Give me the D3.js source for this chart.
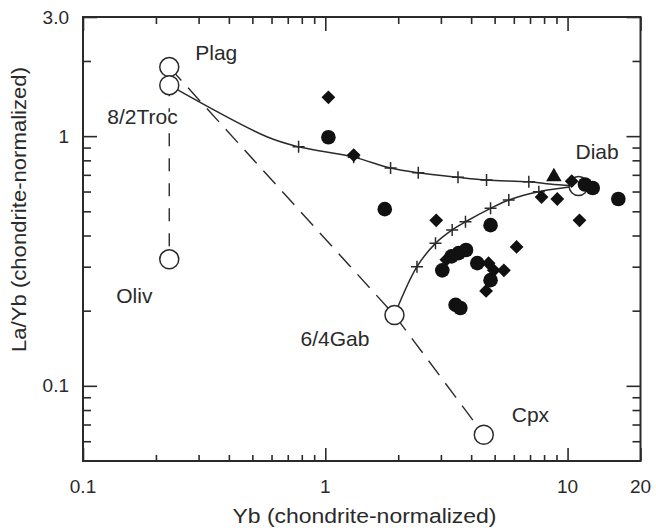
<!DOCTYPE html>
<html>
<head>
<meta charset="utf-8">
<script src="https://cdn.jsdelivr.net/npm/d3@7"></script>
<style>
  body { margin: 0; background: #fff; }
  svg { display: block; font-family: "Liberation Sans", Arial, sans-serif; }
</style>
</head>
<body>
<div id="chart"></div>
<script>
// Chart data
const xMajor = [0.1, 1, 10, 20];
const xMajorLabels = ["0.1", "1", "10", "20"];
const xMinor = [0.2, 0.3, 0.4, 0.5, 0.6, 0.7, 0.8, 0.9, 2, 3, 4, 5, 6, 7, 8, 9];
const yMajor = [3.0, 1, 0.1];
const yMajorLabels = ["3.0", "1", "0.1"];
const yMinor = [0.06, 0.07, 0.08, 0.09, 0.2, 0.3, 0.4, 0.5, 0.6, 0.7, 0.8, 0.9, 2];

// end-member compositions (open circles)
const endNames = ["Plag", "8/2Troc", "Oliv", "6/4Gab", "Cpx", "Diab"];
const endYb = [0.227, 0.227, 0.227, 1.93, 4.51, 11.1];
const endLaYb = [1.89, 1.60, 0.321, 0.192, 0.0637, 0.631];

// dashed tie lines
const tieOliv = [[0.227, 0.321], [0.227, 1.60]];
const tieCpx = [[0.227, 1.89], [1.93, 0.192], [4.51, 0.0637]];

// mixing curves (path vertices) and their + marks
const mixUpper = [[0.227, 1.60], [0.574, 0.994], [0.776, 0.906], [1.31, 0.824],
  [1.86, 0.745], [2.42, 0.713], [3.53, 0.684], [4.63, 0.667], [6.92, 0.656], [8.8, 0.64], [11.1, 0.631]];
const mixUpperTicks = [[0.776, 0.906], [1.31, 0.824], [1.86, 0.745], [2.42, 0.713], [3.53, 0.684],
  [4.63, 0.667], [6.92, 0.656]];
const mixLower = [[1.93, 0.192], [2.39, 0.300], [2.85, 0.372], [3.34, 0.421], [3.79, 0.454],
  [4.81, 0.514], [5.72, 0.555], [7.61, 0.599], [11.1, 0.631]];
const mixLowerTicks = [[2.39, 0.300], [2.85, 0.372], [3.34, 0.421], [3.79, 0.454], [4.81, 0.514],
  [5.72, 0.555], [7.61, 0.599]];

// samples
const circYb = [1.03, 1.76, 4.81, 3.55, 3.81, 3.04, 4.24, 4.81, 3.45, 3.61, 11.8, 12.7, 16.2, 3.32];
const circLaYb = [0.99, 0.51, 0.44, 0.34, 0.35, 0.29, 0.31, 0.265, 0.211, 0.205, 0.64, 0.62, 0.56, 0.33];
const diamYb = [1.03, 1.31, 2.87, 6.16, 7.81, 9.07, 10.4, 11.2, 3.16, 4.72, 4.96, 5.46, 4.61];
const diamLaYb = [1.43, 0.84, 0.46, 0.36, 0.57, 0.56, 0.66, 0.46, 0.32, 0.31, 0.29, 0.29, 0.24];
const triYb = [8.78];
const triLaYb = [0.687];

// Layout
const W = 656, H = 532;
const plot = { left: 83, right: 640.5, top: 17, bottom: 461 };
const ink = "#2a2a2a";

// label offsets from each end-member circle (px)
const labelOffsets = {
  "Plag": [26, -7], "8/2Troc": [-62, 39], "Oliv": [-53, 44],
  "6/4Gab": [-94, 31], "Cpx": [28, -13], "Diab": [-3, -27]
};

const svg = d3.select("#chart").append("svg")
  .attr("width", W).attr("height", H);

const x = d3.scaleLog().domain([0.1, 20]).range([plot.left, plot.right]);
const y = d3.scaleLog().domain([0.05, 3.0]).range([plot.bottom, plot.top]);

// axes: ticks point inward on all four sides
function addAxis(axisFn, translate, values, size) {
  svg.append("g")
    .attr("transform", translate)
    .call(axisFn.tickValues(values).tickSize(size).tickFormat(""))
    .call(g => g.select(".domain").remove())
    .call(g => g.selectAll("line").attr("stroke", ink).attr("stroke-width", 1.6));
}
addAxis(d3.axisTop(x), `translate(0,${plot.bottom})`, xMajor, 13);
addAxis(d3.axisTop(x), `translate(0,${plot.bottom})`, xMinor, 6);
addAxis(d3.axisBottom(x), `translate(0,${plot.top})`, xMajor, 14);
addAxis(d3.axisBottom(x), `translate(0,${plot.top})`, xMinor, 7);
addAxis(d3.axisRight(y), `translate(${plot.left},0)`, yMajor, 14);
addAxis(d3.axisRight(y), `translate(${plot.left},0)`, yMinor, 8);
addAxis(d3.axisLeft(y), `translate(${plot.right},0)`, yMajor, 14);
addAxis(d3.axisLeft(y), `translate(${plot.right},0)`, yMinor, 8);

svg.append("rect")
  .attr("x", plot.left).attr("y", plot.top)
  .attr("width", plot.right - plot.left).attr("height", plot.bottom - plot.top)
  .attr("fill", "none").attr("stroke", ink).attr("stroke-width", 2);

// tick labels
svg.append("g").selectAll("text")
  .data(xMajor)
  .join("text")
  .attr("x", d => x(d))
  .attr("y", 493)
  .attr("text-anchor", "middle")
  .attr("font-size", 19)
  .attr("fill", ink)
  .text((d, i) => xMajorLabels[i]);

svg.append("g").selectAll("text")
  .data(yMajor)
  .join("text")
  .attr("x", 69)
  .attr("y", d => y(d))
  .attr("dy", "0.35em")
  .attr("text-anchor", "end")
  .attr("font-size", 19)
  .attr("fill", ink)
  .text((d, i) => yMajorLabels[i]);

// axis titles
svg.append("text")
  .attr("x", 364.5).attr("y", 523)
  .attr("text-anchor", "middle")
  .attr("font-size", 20)
  .attr("textLength", 264).attr("lengthAdjust", "spacingAndGlyphs")
  .attr("fill", ink)
  .text("Yb (chondrite-normalized)");

svg.append("text")
  .attr("transform", "translate(26,209.5) rotate(-90)")
  .attr("text-anchor", "middle")
  .attr("font-size", 20)
  .attr("textLength", 285).attr("lengthAdjust", "spacingAndGlyphs")
  .attr("fill", ink)
  .text("La/Yb (chondrite-normalized)");

// lines
const line = d3.line().x(d => x(d[0])).y(d => y(d[1]));
const curve = d3.line().x(d => x(d[0])).y(d => y(d[1])).curve(d3.curveCatmullRom.alpha(0.5));

svg.append("path")
  .attr("d", line(tieOliv))
  .attr("fill", "none").attr("stroke", ink).attr("stroke-width", 1.4)
  .attr("stroke-dasharray", "13,12").attr("stroke-dashoffset", 12);

svg.append("path")
  .attr("d", line(tieCpx))
  .attr("fill", "none").attr("stroke", ink).attr("stroke-width", 1.4)
  .attr("stroke-dasharray", "18,10");

[mixUpper, mixLower].forEach(pts => {
  svg.append("path")
    .attr("d", curve(pts))
    .attr("fill", "none").attr("stroke", ink).attr("stroke-width", 1.5);
});

// + marks on mixing curves
const plusPath = "M-6,0H6M0,-6V6";
svg.append("g").selectAll("path")
  .data(mixUpperTicks.concat(mixLowerTicks))
  .join("path")
  .attr("transform", d => `translate(${x(d[0])},${y(d[1])})`)
  .attr("d", plusPath)
  .attr("stroke", ink).attr("stroke-width", 1.5);

// end-member open circles
svg.append("g").selectAll("circle")
  .data(endNames)
  .join("circle")
  .attr("cx", (d, i) => x(endYb[i]))
  .attr("cy", (d, i) => y(endLaYb[i]))
  .attr("r", 9.5)
  .attr("fill", "#fff").attr("stroke", ink).attr("stroke-width", 1.5);

// samples
svg.append("g").selectAll("circle")
  .data(circYb)
  .join("circle")
  .attr("cx", d => x(d))
  .attr("cy", (d, i) => y(circLaYb[i]))
  .attr("r", 7.3)
  .attr("fill", "#111");

svg.append("g").selectAll("path")
  .data(diamYb)
  .join("path")
  .attr("transform", (d, i) => `translate(${x(d)},${y(diamLaYb[i])}) rotate(45)`)
  .attr("d", d3.symbol().type(d3.symbolSquare).size(95))
  .attr("fill", "#111");

svg.append("g").selectAll("path")
  .data(triYb)
  .join("path")
  .attr("transform", (d, i) => `translate(${x(d)},${y(triLaYb[i])})`)
  .attr("d", d3.symbol().type(d3.symbolTriangle).size(105))
  .attr("fill", "#111");

// end-member labels
svg.append("g").selectAll("text")
  .data(endNames)
  .join("text")
  .attr("x", (d, i) => x(endYb[i]) + labelOffsets[d][0])
  .attr("y", (d, i) => y(endLaYb[i]) + labelOffsets[d][1])
  .attr("font-size", 21)
  .attr("fill", ink)
  .attr("stroke", "#fff").attr("stroke-width", 4)
  .attr("paint-order", "stroke")
  .text(d => d);
</script>
</body>
</html>
